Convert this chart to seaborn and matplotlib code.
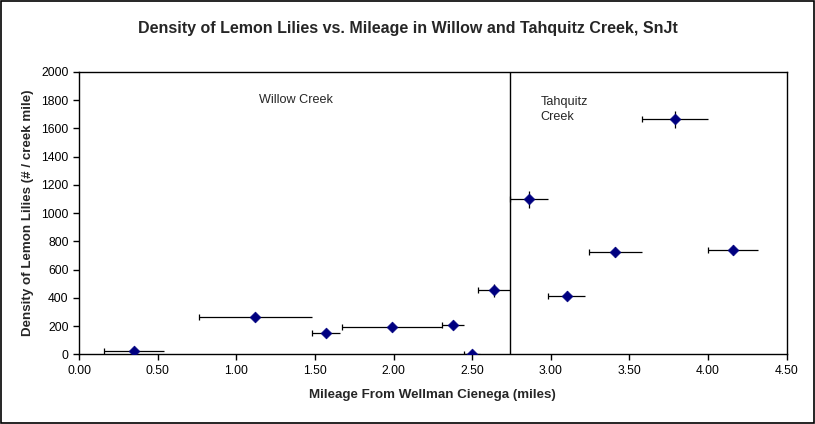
import matplotlib
matplotlib.use("Agg")
import matplotlib.pyplot as plt
import seaborn as sns
import pandas as pd
from matplotlib.patches import Rectangle
from matplotlib.ticker import FormatStrFormatter, MultipleLocator

# ---- data ----
mileage = [0.35, 1.12, 1.57, 1.99, 2.38, 2.50, 2.64, 2.86, 3.10, 3.41, 3.79, 4.16]
density = [20, 262, 149, 196, 205, 0, 453, 1098, 415, 723, 1665, 737]
mileage_err = [0.19, 0.36, 0.09, 0.32, 0.07, 0.05, 0.10, 0.12, 0.12, 0.17, 0.21, 0.16]
density_err = [15, 25, 20, 20, 20, 0, 45, 62, 30, 35, 59, 35]
creek_boundary = 2.74
region_labels = ["Willow Creek", "Tahquitz\nCreek"]

df = pd.DataFrame({"mileage": mileage, "density": density,
                   "xerr": mileage_err, "yerr": density_err})
df["xlo"] = df["mileage"] - df["xerr"]

sns.set_style("ticks")
plt.rcParams["font.family"] = ["Liberation Sans", "DejaVu Sans"]

fig = plt.figure(figsize=(8.15, 4.24), dpi=100)
ax = fig.add_axes([79 / 815, 1 - 354.3 / 424, (786.7 - 79) / 815, (354.3 - 72) / 424])

# error bars (no caps), then caps only on the lower x end
ax.errorbar(df["mileage"], df["density"], xerr=df["xerr"], yerr=df["yerr"],
            fmt="none", ecolor="black", elinewidth=0.9, capsize=0, zorder=2)
ax.plot(df["xlo"], df["density"], linestyle="none", marker="|",
        markersize=4.5, markeredgewidth=0.9, color="black", zorder=2)

sns.scatterplot(data=df, x="mileage", y="density", marker="D", s=30,
                color="#000080", edgecolor="#000080", linewidth=0.5,
                ax=ax, zorder=3, legend=False)

ax.axvline(creek_boundary, color="black", linewidth=1.0, zorder=1)

ax.text(1.38, 1802, region_labels[0], fontsize=9.1, ha="center", va="center")
ax.text(2.935, 1735, region_labels[1], fontsize=9.1, ha="left", va="center",
        linespacing=1.25)

ax.set_xlim(0, 4.5)
ax.set_ylim(0, 2000)
ax.xaxis.set_major_locator(MultipleLocator(0.5))
ax.yaxis.set_major_locator(MultipleLocator(200))
ax.xaxis.set_major_formatter(FormatStrFormatter("%.2f"))
ax.yaxis.set_major_formatter(FormatStrFormatter("%d"))

for s in ax.spines.values():
    s.set_color("black")
    s.set_linewidth(1.0)

ax.tick_params(axis="both", direction="out", length=4, width=1.0,
               labelsize=8.7, colors="black", pad=3.5)

ax.set_xlabel("Mileage From Wellman Cienega (miles)", fontsize=9.6,
              fontweight="bold", labelpad=9)
ax.set_ylabel("Density of Lemon Lilies (# / creek mile)", fontsize=9.6,
              fontweight="bold", labelpad=5)

fig.text(0.5, 1 - 29 / 424, "Density of Lemon Lilies vs. Mileage in Willow and Tahquitz Creek, SnJt",
         ha="center", va="center", fontsize=11.5, fontweight="bold")

fig.patches.append(Rectangle((0.0008, 0.0012), 0.9975, 0.9965, transform=fig.transFigure,
                             fill=False, edgecolor="black", linewidth=1.2))

fig.savefig("out.png", dpi=100)
